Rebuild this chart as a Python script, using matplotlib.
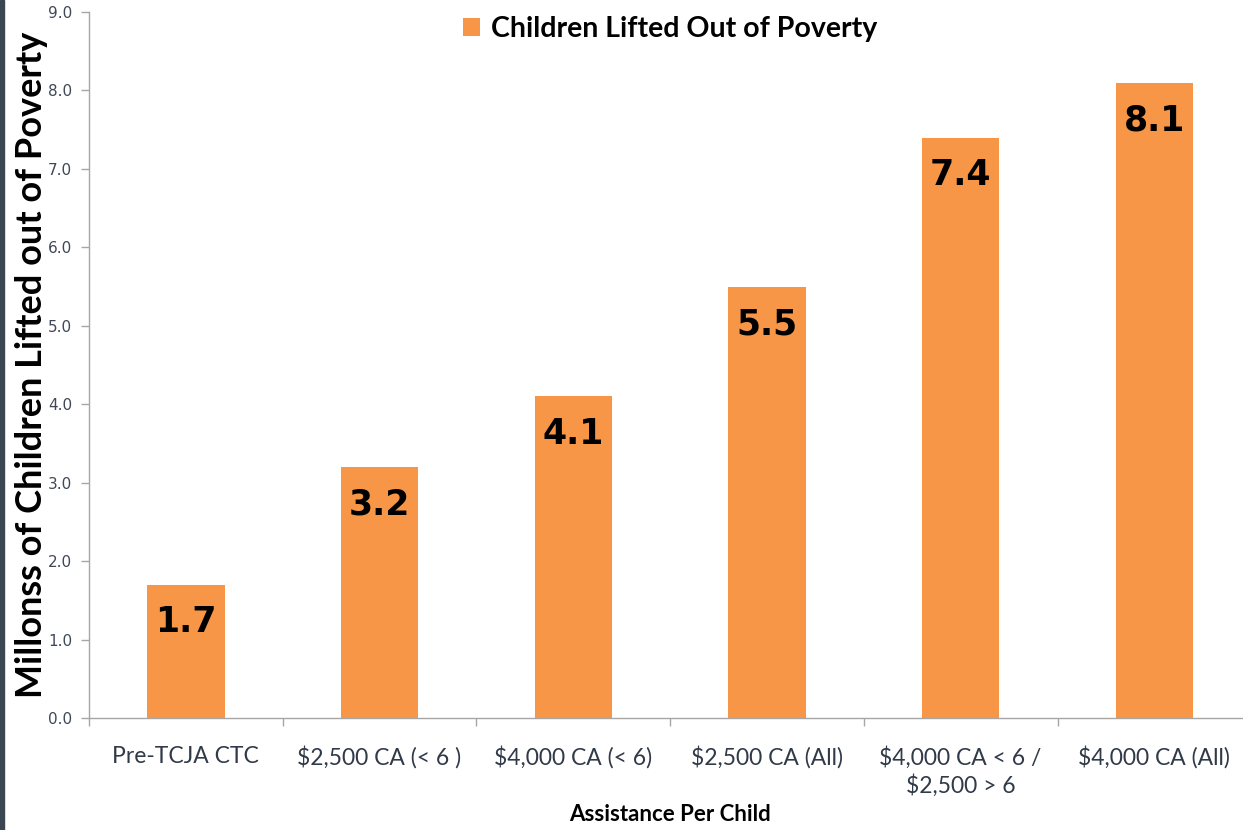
import matplotlib
matplotlib.use("Agg")
import matplotlib.pyplot as plt
from matplotlib.patches import Rectangle
import numpy as np

# categories and values
categories = ["Pre-TCJA CTC", "$2,500 CA (< 6 )", "$4,000 CA (< 6)",
              "$2,500 CA (All)", "$4,000 CA < 6 /\n$2,500 > 6", "$4,000 CA (All)"]
children_lifted = [1.7, 3.2, 4.1, 5.5, 7.4, 8.1]
y_ticks = [0.0, 1.0, 2.0, 3.0, 4.0, 5.0, 6.0, 7.0, 8.0, 9.0]

BAR_COLOR = "#F79646"
TEXT_FONT = ["Lato", "DejaVu Sans"]

fig = plt.figure(figsize=(12.43, 8.3), dpi=100)
ax = fig.add_axes([0.0716, 0.135, 0.935, 0.8505])

x = np.arange(len(categories))
bars = ax.bar(x, children_lifted, width=0.4, color=BAR_COLOR,
              label="Children Lifted Out of Poverty", zorder=2)

# value labels just under the top of each bar
for xi, v in zip(x, children_lifted):
    ax.annotate(f"{v:.1f}", xy=(xi, v), xytext=(0, -15), textcoords="offset points",
                ha="center", va="top", fontsize=25, fontweight="bold",
                family="DejaVu Sans", color="black")

ax.set_xlim(-0.5, len(categories) - 0.5)
ax.set_ylim(0, 9)
ax.set_yticks(y_ticks)
ax.set_yticklabels([f"{t:.1f}" for t in y_ticks], fontsize=11,
                   color="#404858", family="DejaVu Sans")

# category labels centred, ticks on the boundaries
ax.set_xticks(x)
ax.set_xticklabels(categories, fontsize=16.5, color="#303a48", family=TEXT_FONT,
                   linespacing=1.3)
ax.tick_params(axis="x", length=0, pad=20)
ax.set_xticks(np.arange(len(categories) + 1) - 0.5, minor=True)
ax.tick_params(axis="x", which="minor", length=6, color="#a6a6a6", width=1)
ax.tick_params(axis="y", length=6, color="#a6a6a6", width=1, pad=6)

for side in ["top", "right"]:
    ax.spines[side].set_visible(False)
for side in ["left", "bottom"]:
    ax.spines[side].set_color("#a6a6a6")
    ax.spines[side].set_linewidth(1)

ax.set_ylabel("Millonss of Children Lifted out of Poverty", fontsize=26,
              fontweight="bold", family=TEXT_FONT, labelpad=0)
ax.set_xlabel("Assistance Per Child", fontsize=16, fontweight="bold",
              family=TEXT_FONT, labelpad=5)

ax.legend(loc="upper center", bbox_to_anchor=(0.5, 1.03), frameon=False,
          prop={"family": TEXT_FONT, "size": 20.5, "weight": "bold"},
          handlelength=0.6, handleheight=0.6, handletextpad=0.4)

# dark edge strip at the left
fig.patches.append(Rectangle((0, 0), 0.003, 1, transform=fig.transFigure,
                             color="#3a4652", zorder=10))

fig.savefig("out.png", dpi=100)
